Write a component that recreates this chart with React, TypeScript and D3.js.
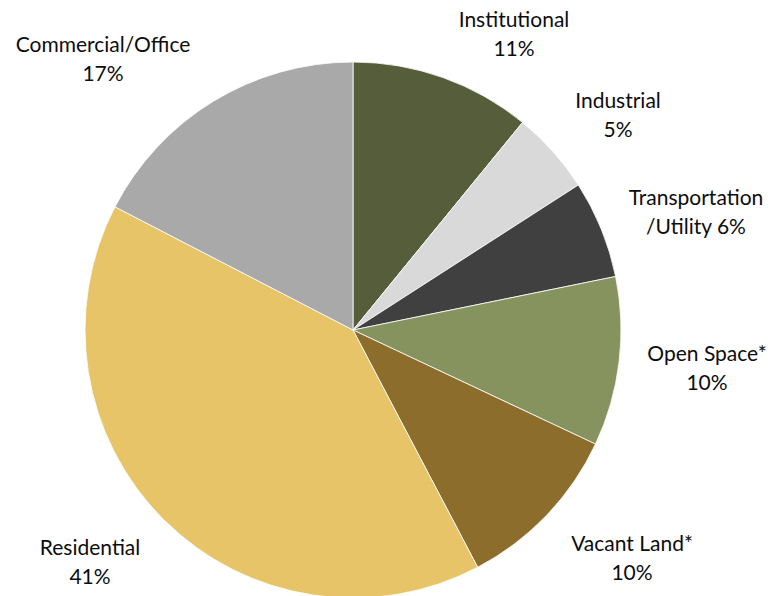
import React from 'react';
import * as d3 from 'd3';

// slices clockwise from 12 o'clock
const categories = ['Institutional', 'Industrial', 'Transportation/Utility', 'Open Space*', 'Vacant Land*', 'Residential', 'Commercial/Office'];
const shares = [10.9, 5.0, 5.9, 10.2, 10.3, 40.3, 17.4];
const labelLines = [
  ['Institutional', '11%'],
  ['Industrial', '5%'],
  ['Transportation', '/Utility 6%'],
  ['Open Space*', '10%'],
  ['Vacant Land*', '10%'],
  ['Residential', '41%'],
  ['Commercial/Office', '17%'],
];
const colors = ['#565d3a', '#d9d9d9', '#404040', '#86935e', '#8c6d2c', '#e6c467', '#a9a9a9'];

const W = 773, H = 596;
const cx = 353, cy = 330, R = 268;
// label anchor points (centre of the two lines)
const labelPos: [number, number][] = [
  [514, 35], [618, 116], [696, 213], [707, 369], [632, 559], [90, 563], [103, 60],
];

export default function App() {
  const pie = d3.pie<number>().sort(null).value(d => d);
  const arcs = pie(shares);
  const arc = d3.arc<d3.PieArcDatum<number>>().innerRadius(0).outerRadius(R);

  return (
    <svg width={W} height={H} style={{ position: 'absolute', left: 0, top: 0, background: '#fff' }}>
      <g transform={`translate(${cx},${cy})`}>
        {arcs.map((a, i) => (
          <path key={categories[i]} d={arc(a) || ''} fill={colors[i]} stroke="#fff" strokeWidth={0.8} />
        ))}
      </g>
      {labelLines.map((lines, i) => (
        <text key={i} x={labelPos[i][0]} y={labelPos[i][1]} textAnchor="middle"
          fontFamily="Lato, 'Open Sans', sans-serif" fontSize={21} fill="#0d0d0d">
          <tspan x={labelPos[i][0]} dy="-0.36em">{lines[0]}</tspan>
          <tspan x={labelPos[i][0]} dy="1.38em">{lines[1]}</tspan>
        </text>
      ))}
    </svg>
  );
}
